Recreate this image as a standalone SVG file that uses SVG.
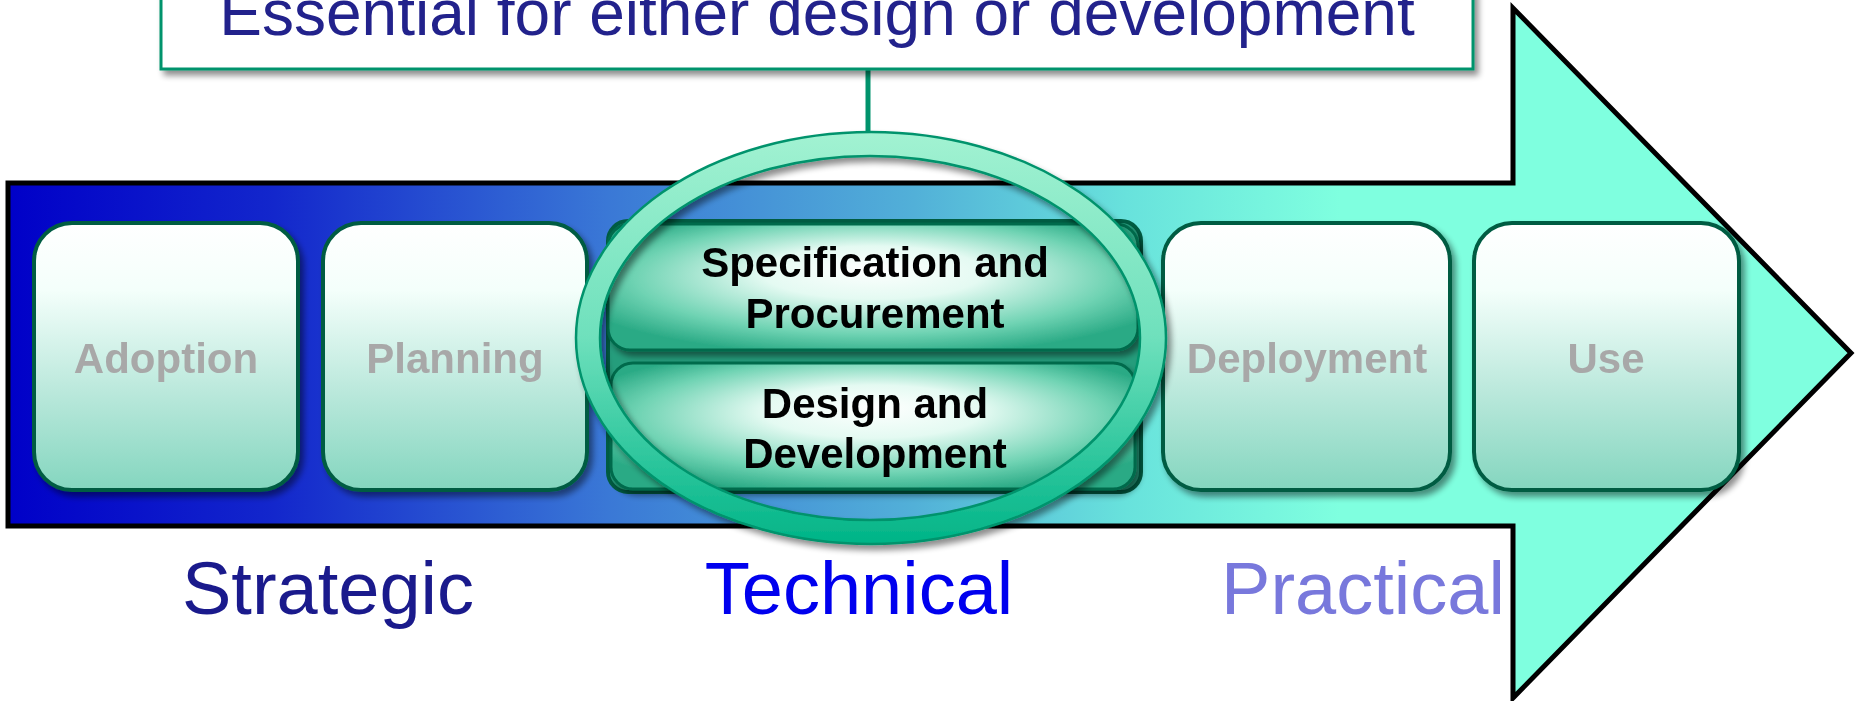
<svg xmlns="http://www.w3.org/2000/svg" width="1855" height="701" viewBox="0 0 1855 701">
<defs>
<style>
.lbl{font-family:"Liberation Sans",Arial,sans-serif;font-weight:bold;font-size:42px;fill:#a8a8a8;text-anchor:middle}
.blk{font-family:"Liberation Sans",Arial,sans-serif;font-weight:bold;font-size:42px;fill:#000;text-anchor:middle}
.phase{font-family:"Liberation Sans",Arial,sans-serif;font-size:74px;text-anchor:middle}
.box{fill:url(#boxg);stroke:#005c42;stroke-width:4}
</style>
<linearGradient id="arrowg" gradientUnits="userSpaceOnUse" x1="8" y1="0" x2="1340" y2="0">
<stop offset="0" stop-color="#0000c8"/>
<stop offset="0.2" stop-color="#1327cc"/>
<stop offset="0.45" stop-color="#3a78d6"/>
<stop offset="0.68" stop-color="#52b0d8"/>
<stop offset="0.84" stop-color="#68e2dc"/>
<stop offset="1" stop-color="#7fffdf"/>
</linearGradient>
<linearGradient id="boxg" x1="0" y1="0" x2="0" y2="1">
<stop offset="0" stop-color="#ffffff"/>
<stop offset="0.25" stop-color="#f4fffb"/>
<stop offset="0.6" stop-color="#bfeade"/>
<stop offset="1" stop-color="#84d6bf"/>
</linearGradient>
<radialGradient id="pillg" cx="0.5" cy="0.45" r="0.6" fx="0.5" fy="0.35">
<stop offset="0" stop-color="#ffffff"/>
<stop offset="0.35" stop-color="#e4faf2"/>
<stop offset="0.75" stop-color="#6fd3b3"/>
<stop offset="1" stop-color="#2aaa85"/>
</radialGradient>
<linearGradient id="ringg" x1="0" y1="0" x2="0" y2="1">
<stop offset="0" stop-color="#a2f2d2"/>
<stop offset="0.5" stop-color="#6ee0bc"/>
<stop offset="1" stop-color="#00b487"/>
</linearGradient>
<filter id="sh" x="-10%" y="-10%" width="130%" height="130%">
<feGaussianBlur in="SourceAlpha" stdDeviation="3"/>
<feOffset dx="4" dy="5"/>
<feComponentTransfer><feFuncA type="linear" slope="0.45"/></feComponentTransfer>
<feMerge><feMergeNode/><feMergeNode in="SourceGraphic"/></feMerge>
</filter>
</defs>
<rect width="1855" height="701" fill="#ffffff"/>

<g id="arrow">
<polygon points="8,183 1513,183 1513,8 1851,353 1513,698 1513,526 8,526" fill="url(#arrowg)" stroke="#000" stroke-width="5" stroke-linejoin="miter"/>
</g>

<g id="connectors">
<line x1="868" y1="69" x2="868" y2="134" stroke="#00936c" stroke-width="5"/>
</g>

<g id="callout" filter="url(#sh)">
<rect x="161" y="-20" width="1312" height="89" fill="#ffffff" stroke="#00936c" stroke-width="3"/>
<text x="817" y="35" font-family="Liberation Sans, Arial, sans-serif" font-size="64" fill="#24248c" text-anchor="middle">Essential for either design or development</text>
</g>

<g id="adoption" filter="url(#sh)">
<rect class="box" x="34" y="223" width="264" height="267" rx="38"/>
<text class="lbl" x="166" y="373">Adoption</text>
</g>
<g id="planning" filter="url(#sh)">
<rect class="box" x="323" y="223" width="264" height="267" rx="38"/>
<text class="lbl" x="455" y="373">Planning</text>
</g>

<g id="technical-group">
<rect x="608" y="221" width="533" height="271" rx="20" fill="#259d7c" stroke="#005c42" stroke-width="4"/>
<g id="spec" filter="url(#sh)">
<rect x="608" y="224" width="530" height="126" rx="22" fill="url(#pillg)" stroke="#006a4c" stroke-width="3"/>
<text class="blk" x="875" y="277">Specification and</text>
<text class="blk" x="875" y="328">Procurement</text>
</g>
<g id="design" filter="url(#sh)">
<rect x="611" y="363" width="524" height="126" rx="22" fill="url(#pillg)" stroke="#006a4c" stroke-width="3"/>
<text class="blk" x="875" y="418">Design and</text>
<text class="blk" x="875" y="468">Development</text>
</g>
</g>

<g id="deployment" filter="url(#sh)">
<rect class="box" x="1163" y="223" width="287" height="267" rx="38"/>
<text class="lbl" x="1307" y="373">Deployment</text>
</g>
<g id="use" filter="url(#sh)">
<rect class="box" x="1474" y="223" width="265" height="267" rx="38"/>
<text class="lbl" x="1606" y="373">Use</text>
</g>

<g id="ring" filter="url(#sh)">
<path fill-rule="evenodd" fill="url(#ringg)" stroke="#00936c" stroke-width="2.5"
d="M576,338 a295,206 0 1,0 590,0 a295,206 0 1,0 -590,0 Z M600,338 a270,182 0 1,0 540,0 a270,182 0 1,0 -540,0 Z"/>
</g>

<g id="phases">
<text class="phase" x="328" y="614" fill="#1a1a8c">Strategic</text>
<text class="phase" x="859" y="614" fill="#0000ee">Technical</text>
<text class="phase" x="1363" y="614" fill="#7878dc">Practical</text>
</g>
</svg>
